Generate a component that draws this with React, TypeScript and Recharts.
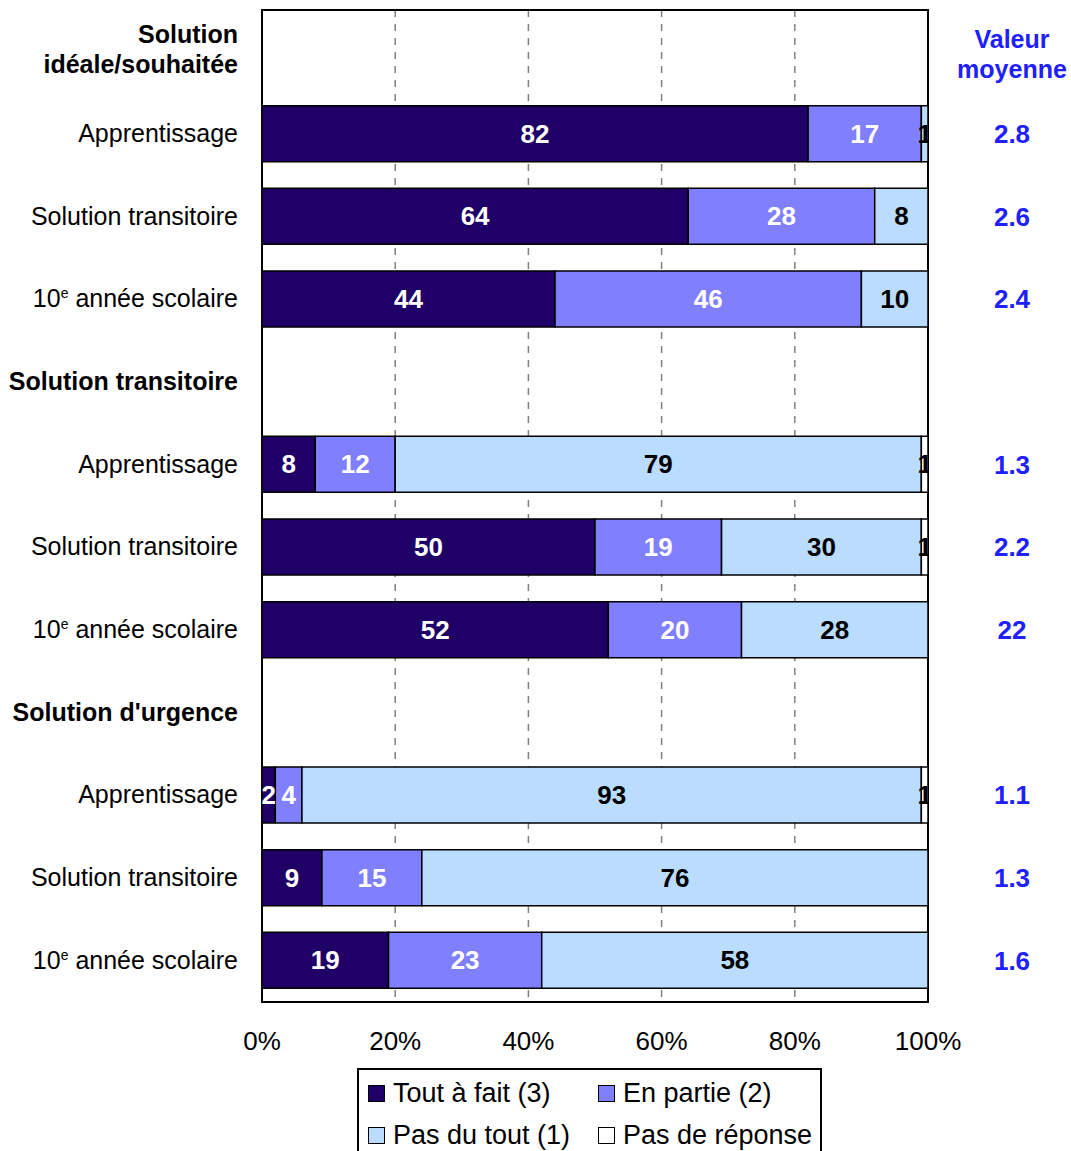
import React from 'react';
import { BarChart, Bar, XAxis, YAxis, CartesianGrid, LabelList, ReferenceArea } from 'recharts';

// rows top to bottom; '\n' splits header labels onto two lines
const rowLabels = [
  'Solution\nidéale/souhaitée',
  'Apprentissage',
  'Solution transitoire',
  '10e année scolaire',
  'Solution transitoire',
  'Apprentissage',
  'Solution transitoire',
  '10e année scolaire',
  "Solution d'urgence",
  'Apprentissage',
  'Solution transitoire',
  '10e année scolaire',
];
const headerRows = [true, false, false, false, true, false, false, false, true, false, false, false];

const toutAFait = [null, 82, 64, 44, null, 8, 50, 52, null, 2, 9, 19];
const enPartie = [null, 17, 28, 46, null, 12, 19, 20, null, 4, 15, 23];
const pasDuTout = [null, 1, 8, 10, null, 79, 30, 28, null, 93, 76, 58];
const pasDeReponse = [null, 0, 0, 0, null, 1, 1, 0, null, 1, 0, 0];

const valeurMoyenne = ['Valeur\nmoyenne', '2.8', '2.6', '2.4', '', '1.3', '2.2', '22', '', '1.1', '1.3', '1.6'];

const xTicks = [0, 20, 40, 60, 80, 100];

const seriesNames = ['Tout à fait (3)', 'En partie (2)', 'Pas du tout (1)', 'Pas de réponse'];
const COLORS = ['#1f0066', '#8080ff', '#b9dcff', '#ffffff'];
const LABEL_COLORS = ['#ffffff', '#ffffff', '#000000', '#000000'];

const data = rowLabels.map((label, i) => ({
  row: i,
  label,
  tout: toutAFait[i],
  partie: enPartie[i],
  pasdutout: pasDuTout[i],
  nr: pasDeReponse[i],
}));

const W = 1071;
const H = 1151;
const LEFT_W = 262;
const RIGHT_W = 143;
const PLOT_RIGHT = W - RIGHT_W;
const FONT = 'Liberation Sans, Arial, Helvetica, sans-serif';

const LeftTick = (props: any) => {
  const { x, y, payload } = props;
  const i = payload.value as number;
  const label = rowLabels[i];
  const bold = headerRows[i];
  const tx = x - 16;
  if (label.includes('\n')) {
    const lines = label.split('\n');
    return (
      <text x={tx} y={y} textAnchor="end" fontFamily={FONT} fontSize={25} fontWeight="bold" fill="#000">
        <tspan x={tx} dy={-8}>{lines[0]}</tspan>
        <tspan x={tx} dy={30}>{lines[1]}</tspan>
      </text>
    );
  }
  if (label.startsWith('10e ')) {
    return (
      <text x={tx} y={y + 8} textAnchor="end" fontFamily={FONT} fontSize={25} fill="#000">
        10<tspan fontSize={14} dy={-9}>e</tspan>
        <tspan dy={9}>{label.slice(3)}</tspan>
      </text>
    );
  }
  return (
    <text x={tx} y={y + 8} textAnchor="end" fontFamily={FONT} fontSize={25} fontWeight={bold ? 'bold' : 'normal'} fill="#000">
      {label}
    </text>
  );
};

const RightTick = (props: any) => {
  const { x, y, payload } = props;
  const v = valeurMoyenne[payload.value as number];
  const cx = x + 76;
  if (v.includes('\n')) {
    const lines = v.split('\n');
    return (
      <text x={cx} y={y} textAnchor="middle" fontFamily={FONT} fontSize={25} fontWeight="bold" fill="#2020ff">
        <tspan x={cx} dy={-3}>{lines[0]}</tspan>
        <tspan x={cx} dy={30}>{lines[1]}</tspan>
      </text>
    );
  }
  return (
    <text x={cx} y={y + 9} textAnchor="middle" fontFamily={FONT} fontSize={26} fontWeight="bold" fill="#2020ff">
      {v}
    </text>
  );
};

const makeLabel = (color: string, key: string) => (props: any) => {
  const { x, y, width, height, value } = props;
  if (value == null || value === 0) return null;
  const id = `clip-${key}-${Math.round(y)}`;
  return (
    <g>
      <defs>
        <clipPath id={id}>
          <rect x={0} y={y} width={PLOT_RIGHT} height={height} />
        </clipPath>
      </defs>
      <text
        x={x + width / 2}
        y={y + height / 2 + 9}
        textAnchor="middle"
        fontFamily={FONT}
        fontSize={26}
        fontWeight="bold"
        fill={color}
        clipPath={`url(#${id})`}
      >
        {value}
      </text>
    </g>
  );
};

const keys = ['tout', 'partie', 'pasdutout', 'nr'];

const Legend = () => (
  <div
    style={{
      position: 'absolute',
      left: 357,
      top: 1068,
      width: 465,
      height: 100,
      border: '2px solid #000',
      boxSizing: 'border-box',
      fontFamily: FONT,
      fontSize: 27,
      color: '#000',
      display: 'grid',
      gridTemplateColumns: '230px 230px',
      gridAutoRows: '42px',
      paddingLeft: 9,
      paddingTop: 2,
    }}
  >
    {seriesNames.map((n, i) => (
      <div key={n} style={{ display: 'flex', alignItems: 'center', whiteSpace: 'nowrap' }}>
        <span
          style={{
            display: 'inline-block',
            width: 15,
            height: 15,
            background: COLORS[i],
            border: '1.5px solid #000',
            marginRight: 8,
          }}
        />
        {n}
      </div>
    ))}
  </div>
);

export default function App() {
  return (
    <div style={{ position: 'absolute', left: 0, top: 0, width: W, height: H, background: '#fff', overflow: 'hidden' }}>
      <BarChart
        width={W}
        height={H}
        data={data}
        layout="vertical"
        margin={{ top: 10, right: 0, left: 0, bottom: 89 }}
        barSize={56}
      >
        <CartesianGrid horizontal={false} stroke="#808080" strokeDasharray="7 7" strokeWidth={1.5} />
        <XAxis
          type="number"
          domain={[0, 100]}
          ticks={xTicks}
          tickFormatter={(v: number) => `${v}%`}
          axisLine={false}
          tickLine={false}
          tickMargin={24}
          height={60}
          tick={{ fontSize: 26, fill: '#000', fontFamily: FONT }}
          interval={0}
        />
        <YAxis
          type="category"
          dataKey="row"
          width={LEFT_W}
          axisLine={false}
          tickLine={false}
          tick={<LeftTick />}
          interval={0}
        />
        <YAxis
          yAxisId="right"
          orientation="right"
          type="category"
          dataKey="row"
          width={RIGHT_W}
          axisLine={false}
          tickLine={false}
          tick={<RightTick />}
          interval={0}
        />
        {keys.map((k, i) => (
          <Bar
            key={k}
            dataKey={k}
            stackId="a"
            fill={COLORS[i]}
            stroke="#000"
            strokeWidth={1.5}
            isAnimationActive={false}
          >
            <LabelList dataKey={k} content={makeLabel(LABEL_COLORS[i], k)} />
          </Bar>
        ))}
        <ReferenceArea x1={0} x2={100} fill="none" stroke="#000" strokeWidth={2} fillOpacity={0} />
      </BarChart>
      <Legend />
    </div>
  );
}
